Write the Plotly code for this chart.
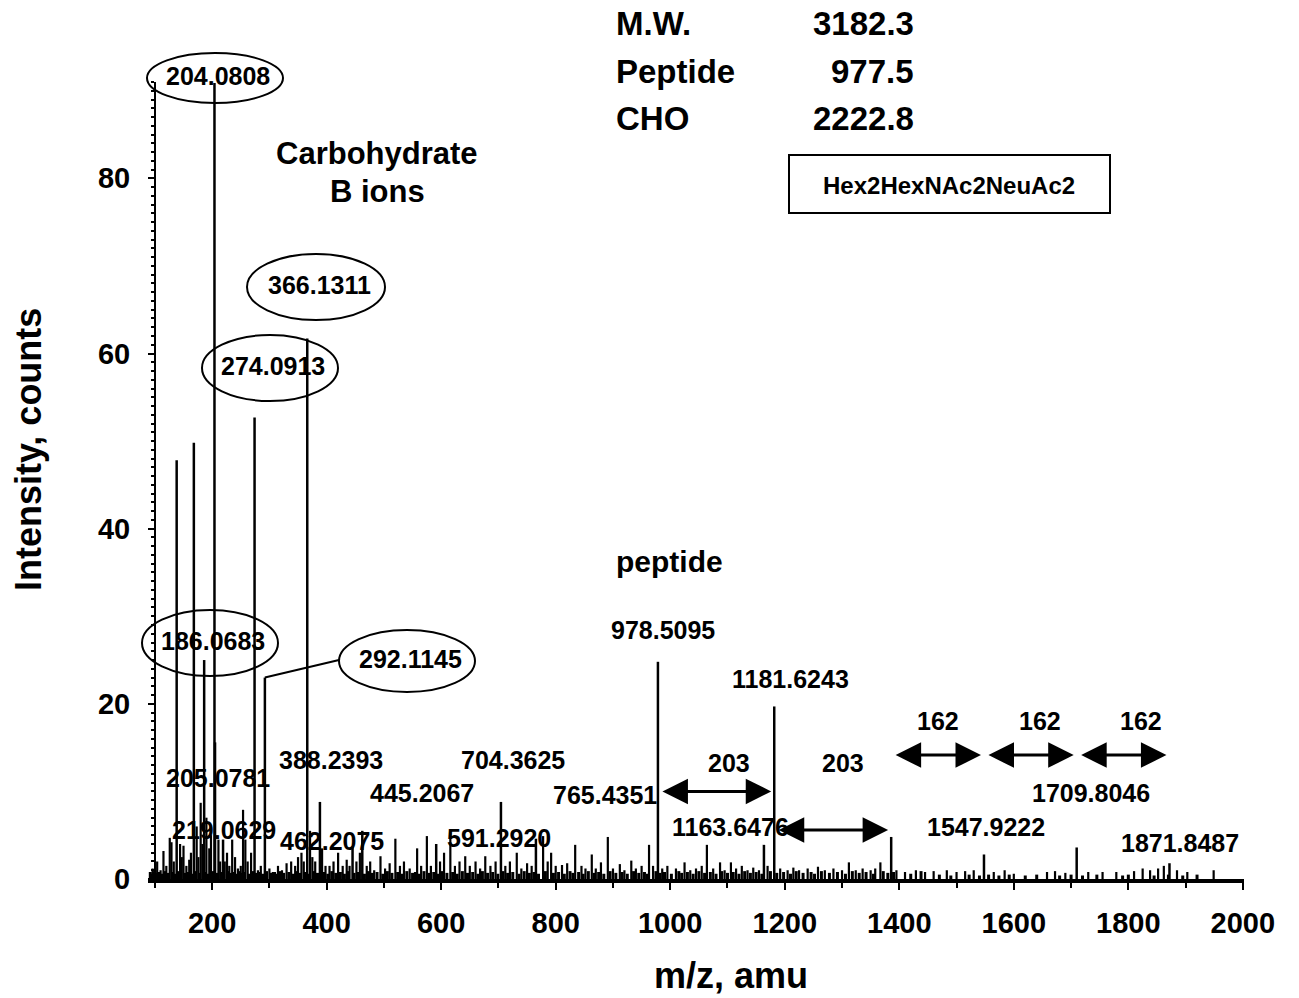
import plotly.graph_objects as go

# Prominent / annotated fragment ions: m/z and intensity (counts)
ion_mz = [138.06, 168.07, 186.07, 204.08, 205.08, 219.06, 274.09, 292.11,
          366.13, 388.24, 445.21, 462.21, 591.29, 704.36, 765.44, 978.51,
          1163.65, 1181.62, 1385.85, 1547.92, 1709.80, 1871.85]
ion_counts = [47.8, 49.8, 25.0, 90.9, 15.6, 4.5, 52.7, 23.0,
              61.7, 8.8, 3.7, 5.5, 4.0, 8.8, 4.6, 24.8,
              3.9, 19.7, 4.8, 2.8, 3.6, 1.8]

# Minor ions forming the low-level background of the spectrum
grass_mz = [96, 104, 110, 115, 120, 126, 129, 133, 144, 147, 150, 155, 160, 163,
            173, 176, 180, 183, 190, 195, 198, 211, 214, 222, 226, 230, 235, 240,
            245, 250, 254, 258, 262, 268, 280, 285, 300, 306, 315, 322, 330, 338,
            345, 350, 356, 360, 371, 375, 380, 392, 398,
            405, 412, 420, 428, 435, 440, 452, 458, 470, 476, 483, 494, 502, 510,
            520, 528, 535, 545, 558, 565, 575, 582, 598, 605, 616, 624, 632, 642,
            650, 660, 668, 677, 686, 695, 712, 720, 732, 740, 750, 758, 778, 786,
            792, 800, 811, 820, 834, 845, 852, 863, 870, 879, 891, 900, 912, 920,
            932, 940, 950, 963, 970, 986, 995,
            1010, 1025, 1035, 1045, 1055, 1064, 1075, 1087, 1095, 1106, 1115, 1125,
            1135, 1145, 1155, 1170, 1192, 1205, 1215, 1225, 1240, 1258, 1270, 1285,
            1300, 1312, 1324, 1336, 1350, 1358, 1367, 1395,
            1410, 1429, 1445, 1460, 1483, 1500, 1515, 1530, 1565, 1584, 1600, 1658,
            1672, 1690, 1730, 1755, 1779, 1810, 1825, 1838, 1852, 1862, 1885, 1903,
            1949]
grass_counts = [1.2, 2.0, 1.0, 3.2, 1.5, 4.7, 4.2, 2.0, 4.0, 2.5, 3.8, 1.5, 2.2, 3.0,
                6.0, 2.5, 8.7, 4.0, 7.0, 3.5, 5.0, 4.5, 2.0, 2.0, 3.0, 1.5, 4.5, 2.5,
                1.2, 1.5, 7.9, 4.5, 2.0, 3.0, 1.0, 1.5, 1.2, 0.8, 1.5, 1.0, 1.8, 2.0,
                1.5, 2.5, 3.0, 2.0, 5.5, 2.5, 2.0, 3.5, 1.5,
                1.5, 2.0, 3.0, 1.5, 2.2, 1.5, 2.0, 3.0, 1.5, 2.0, 1.0, 2.6, 1.2, 1.8,
                4.6, 1.5, 2.0, 1.2, 3.5, 1.5, 4.9, 1.5, 2.0, 3.0, 5.3, 1.5, 2.0, 2.6,
                1.5, 2.0, 1.2, 2.6, 1.5, 2.0, 1.5, 2.0, 3.0, 1.2, 1.8, 1.5, 4.9, 2.0,
                3.0, 1.5, 1.6, 1.8, 3.9, 1.5, 1.2, 2.8, 1.2, 1.9, 4.8, 1.2, 1.7, 1.0,
                2.1, 1.2, 1.5, 3.9, 1.5, 1.2, 1.5,
                1.2, 1.9, 1.0, 1.2, 1.5, 3.9, 1.2, 1.9, 1.0, 1.9, 1.2, 1.5,
                1.0, 1.3, 1.0, 1.5, 1.2, 1.0, 1.3, 1.0, 1.2, 1.4, 1.0, 1.2,
                1.0, 1.9, 1.0, 1.2, 1.0, 1.2, 1.9, 1.0,
                0.8, 1.0, 0.8, 0.9, 1.0, 0.8, 0.9, 1.0, 0.8, 1.0, 0.6, 0.8,
                0.9, 0.7, 0.8, 0.8, 0.8, 0.9, 1.2, 1.0, 1.2, 1.5, 1.0, 0.8,
                1.0]

# Chemical noise floor (very low counts, dense below m/z 1400)
floor_mz = [92, 94, 99, 101, 107, 112, 118, 123, 131, 136, 141, 152, 158, 165,
            171, 178, 188, 193, 201, 208, 217, 220, 228, 233, 238, 243, 248, 252,
            256, 265, 271, 277, 283, 288, 295, 303, 309, 312, 318, 325, 334, 342,
            348, 353, 363, 368, 378, 384, 395, 402, 409, 416, 424, 431, 438, 448,
            455, 466, 473, 480, 488, 498, 506, 514, 524, 532, 540, 550, 555, 562,
            570, 579, 587, 594, 601, 610, 620, 628, 637, 646, 655, 664, 672, 681,
            690, 699, 708, 716, 725, 736, 745, 754, 762, 770, 782, 796, 805, 815,
            825, 830, 840, 848, 857, 867, 875, 884, 895, 905, 916, 925, 936, 945,
            955, 960, 975, 982, 990, 1002, 1015, 1020, 1030, 1040, 1050, 1060, 1070,
            1080, 1090, 1100, 1110, 1120, 1130, 1140, 1150, 1160, 1175, 1186, 1198,
            1210, 1220, 1232, 1246, 1252, 1264, 1278, 1292, 1306, 1318, 1330, 1342,
            1355, 1372, 1380, 1390, 1420, 1438, 1470, 1490, 1522, 1540, 1556, 1574,
            1592, 1620, 1640, 1680, 1700, 1720, 1745, 1790, 1800, 1845, 1870, 1895,
            1920]
floor_counts = [0.8, 0.6, 0.9, 0.7, 0.8, 0.6, 0.9, 0.7, 0.8, 0.6, 0.9, 0.7, 0.8, 0.6,
                0.9, 0.7, 0.8, 0.6, 0.9, 0.7, 0.8, 0.6, 0.9, 0.7, 0.8, 0.6, 0.9, 0.7,
                0.8, 0.6, 0.9, 0.7, 0.8, 0.6, 0.9, 0.7, 0.8, 0.6, 0.9, 0.7, 0.8, 0.6,
                0.9, 0.7, 0.8, 0.6, 0.9, 0.7, 0.8, 0.6, 0.9, 0.7, 0.8, 0.6, 0.9, 0.7,
                0.8, 0.6, 0.9, 0.7, 0.8, 0.6, 0.9, 0.7, 0.8, 0.6, 0.9, 0.7, 0.8, 0.6,
                0.9, 0.7, 0.8, 0.6, 0.9, 0.7, 0.8, 0.6, 0.9, 0.7, 0.8, 0.6, 0.9, 0.7,
                0.8, 0.6, 0.9, 0.7, 0.8, 0.6, 0.9, 0.7, 0.8, 0.6, 0.9, 0.7, 0.8, 0.6,
                0.9, 0.7, 0.8, 0.6, 0.9, 0.7, 0.8, 0.6, 0.9, 0.7, 0.8, 0.6, 0.9, 0.7,
                0.8, 0.6, 0.9, 0.7, 0.8, 0.6, 0.9, 0.7, 0.8, 0.6, 0.9, 0.7, 0.8,
                0.6, 0.9, 0.7, 0.8, 0.6, 0.9, 0.7, 0.8, 0.6, 0.9, 0.7, 0.8, 0.6,
                0.9, 0.7, 0.8, 0.6, 0.9, 0.7, 0.8, 0.6, 0.9, 0.7, 0.8, 0.6, 0.9,
                0.7, 0.8, 0.6, 0.9, 0.5, 0.4, 0.5, 0.4, 0.5, 0.4, 0.5, 0.4, 0.5,
                0.4, 0.5, 0.4, 0.5, 0.4, 0.5, 0.4, 0.5, 0.4, 0.5, 0.4, 0.5, 0.4,
                0.5]

x_tick_vals = [200, 400, 600, 800, 1000, 1200, 1400, 1600, 1800, 2000]
y_tick_vals = [0, 20, 40, 60, 80]

# Labels of individual ions
ellipse_labels = ["204.0808", "366.1311", "274.0913", "186.0683", "292.1145"]
plain_labels = ["205.0781", "219.0629", "388.2393", "445.2067", "462.2075",
                "704.3625", "591.2920", "765.4351", "978.5095", "1181.6243",
                "1163.6476", "1547.9222", "1709.8046", "1871.8487"]

# Mass differences between consecutive glycoforms (from, to, label)
delta_from = [978.5, 1181.6, 1385.8, 1547.9, 1709.8]
delta_to = [1181.6, 1385.8, 1547.9, 1709.8, 1871.8]
delta_text = ["203", "203", "162", "162", "162"]

summary_names = ["M.W.", "Peptide", "CHO"]
summary_values = ["3182.3", "977.5", "2222.8"]
composition = "Hex2HexNAc2NeuAc2"

# ---- page geometry -------------------------------------------------------
W, H = 1299, 998
L, R, T, B = 148, 55, 82, 119
X_RANGE = [88, 2002]
Y_RANGE = [0, 91]
FONT = "Liberation Sans, Arial, Helvetica, sans-serif"


def px(x):
    return (x - L) / (W - L - R)


def py(y):
    return (H - B - y) / (H - B - T)


def mz_paper(mz):
    return (mz - X_RANGE[0]) / (X_RANGE[1] - X_RANGE[0])


def cnt_paper(c):
    return (c - Y_RANGE[0]) / (Y_RANGE[1] - Y_RANGE[0])


def sticks(mz_list, cnt_list):
    xs, ys = [], []
    for m, c in zip(mz_list, cnt_list):
        xs += [m, m, None]
        ys += [0, c, None]
    return xs, ys


fig = go.Figure()

fx, fy = sticks(floor_mz, floor_counts)
fig.add_trace(go.Scatter(x=fx, y=fy, mode="lines",
                         line=dict(color="black", width=3),
                         hoverinfo="skip", showlegend=False))
gx, gy = sticks(grass_mz, grass_counts)
fig.add_trace(go.Scatter(x=gx, y=gy, mode="lines",
                         line=dict(color="black", width=2.2),
                         hoverinfo="skip", showlegend=False))
ix, iy = sticks(ion_mz, ion_counts)
fig.add_trace(go.Scatter(x=ix, y=iy, mode="lines",
                         line=dict(color="black", width=2.5),
                         showlegend=False))

annotations = []
shapes = []


def text(s, x, y, size, anchor="center"):
    annotations.append(dict(text=s, x=px(x), y=py(y), xref="paper", yref="paper",
                            xanchor=anchor, yanchor="middle", showarrow=False,
                            font=dict(family=FONT, size=size, color="black",
                                      weight="bold")))


# circled carbohydrate B ions: label, centre and half-axes of the ring
ring_geom = [(215, 78, 68, 25), (316, 287, 69, 33), (270, 368, 68, 33),
             (210, 643, 68, 33), (407, 661, 68, 31)]
for lab, (cx, cy, rx, ry) in zip(ellipse_labels, ring_geom):
    shapes.append(dict(type="circle", xref="paper", yref="paper",
                       x0=px(cx - rx), x1=px(cx + rx), y0=py(cy + ry), y1=py(cy - ry),
                       line=dict(color="black", width=2)))
    text(lab, cx + 3, cy - 2, 25)

# leader from the 292 ion to its ring
i292 = ion_mz.index(292.11)
shapes.append(dict(type="line", xref="paper", yref="paper",
                   x0=mz_paper(ion_mz[i292]), y0=cnt_paper(ion_counts[i292]),
                   x1=px(339), y1=py(660), line=dict(color="black", width=2)))

plain_pos = [(218, 778), (224, 830), (331, 760), (422, 793), (332, 841),
             (513, 760), (499, 838), (605, 795), (663, 630), (790, 679),
             (730, 827), (986, 827), (1091, 793), (1180, 843)]
for lab, (cx, cy) in zip(plain_labels, plain_pos):
    text(lab, cx, cy, 25)

# double-headed arrows for sugar losses
delta_level = [10.0, 5.6, 14.15, 14.15, 14.15]
delta_label_pos = [(729, 763), (843, 763), (938, 721), (1040, 721), (1141, 721)]
for a, b, lvl, lab, (tx, ty) in zip(delta_from, delta_to, delta_level,
                                    delta_text, delta_label_pos):
    annotations.append(dict(x=b, y=lvl, ax=a, ay=lvl, xref="x", yref="y",
                            axref="x", ayref="y", text="", showarrow=True,
                            arrowhead=2, arrowside="end+start", arrowsize=1.7,
                            arrowwidth=3, arrowcolor="black",
                            standoff=3, startstandoff=3))
    text(lab, tx, ty, 25)

text("Carbohydrate", 377, 153, 31)
text("B ions", 377, 191, 31)
text("peptide", 669, 561, 30)

for i, (n, v) in enumerate(zip(summary_names, summary_values)):
    text(n, 614, 24 + 47 * i, 33, anchor="left")
    text(v, 916, 24 + 47 * i, 33, anchor="right")

shapes.append(dict(type="rect", xref="paper", yref="paper",
                   x0=px(789), x1=px(1110), y0=py(213), y1=py(155),
                   line=dict(color="black", width=2)))
text(composition, 949, 185, 24)

# axis titles
text("m/z, amu", 731, 975, 36)
annotations.append(dict(text="Intensity, counts", x=px(28), y=py(450),
                        xref="paper", yref="paper", showarrow=False,
                        textangle=-90, xanchor="center", yanchor="middle",
                        font=dict(family=FONT, size=36, color="black",
                                  weight="bold")))

tick_font = dict(family=FONT, size=29, color="black", weight="bold")

fig.update_layout(
    width=W, height=H,
    margin=dict(l=L, r=R, t=T, b=B, pad=0),
    paper_bgcolor="white", plot_bgcolor="white",
    showlegend=False,
    xaxis=dict(range=X_RANGE, showgrid=False, zeroline=False,
               showline=True, linecolor="black", linewidth=4,
               tickmode="array", tickvals=x_tick_vals,
               ticktext=[str(v) for v in x_tick_vals],
               ticks="outside", ticklen=7, tickwidth=2, tickcolor="black",
               tickfont=tick_font, ticklabelstandoff=8,
               minor=dict(tickmode="linear", tick0=0, dtick=100, ticks="outside",
                          ticklen=5, tickwidth=2, tickcolor="black")),
    yaxis=dict(range=Y_RANGE, showgrid=False, zeroline=False,
               anchor="free", position=px(155),
               showline=True, linecolor="black", linewidth=2,
               tickmode="array", tickvals=y_tick_vals,
               ticktext=[str(v) for v in y_tick_vals],
               ticks="outside", ticklen=6, tickwidth=2, tickcolor="black",
               tickfont=tick_font, ticklabelstandoff=12,
               minor=dict(tickmode="linear", tick0=0, dtick=1, ticks="outside",
                          ticklen=3, tickwidth=1.5, tickcolor="black")),
    annotations=annotations,
    shapes=shapes,
)

fig.write_html("out.html")
